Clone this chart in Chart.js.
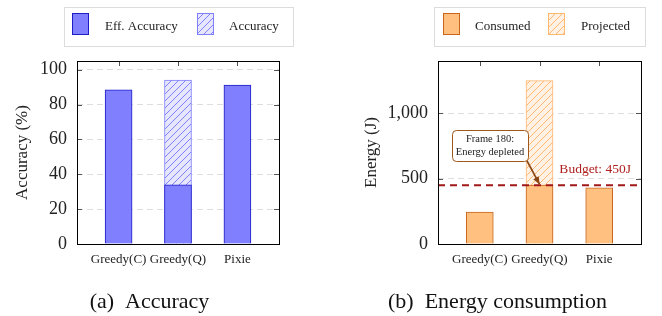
<!DOCTYPE html>
<html>
<head>
<meta charset="utf-8">
<script src="https://cdn.jsdelivr.net/npm/chart.js@4"></script>
<style>
  body { margin: 0; background: #fff; }
  #wrap { position: relative; width: 662px; height: 316px; }
  canvas { position: absolute; top: 0; }
</style>
</head>
<body>
<div id="wrap">
  <canvas id="accChart" width="331" height="316" style="left:0"></canvas>
  <canvas id="energyChart" width="331" height="316" style="left:331px"></canvas>
</div>
<script>
// datos de la figura
const categories = ['Greedy(C)', 'Greedy(Q)', 'Pixie'];
const effAccuracy = [88.5, 34, 91.2];
const accuracy = [null, 94, null];
const accTicks = [0, 20, 40, 60, 80, 100];
const consumed = [245, 450, 430];
const projected = [null, 1250, null];
const energyTicks = [0, 500, 1000];
const budget = 450;
const depletedNote = ['Frame 180:', 'Energy depleted'];

const SERIF = '"Liberation Serif", "Times New Roman", serif';

// relleno rayado tipo pgfplots
function hatch(bg, line) {
    const c = document.createElement('canvas');
    c.width = 7; c.height = 7;
    const g = c.getContext('2d');
    g.fillStyle = bg;
    g.fillRect(0, 0, 7, 7);
    g.strokeStyle = line;
    g.lineWidth = 1;
    g.beginPath();
    g.moveTo(-1, 8); g.lineTo(8, -1);
    g.moveTo(-1, 1); g.lineTo(1, -1);
    g.moveTo(6, 8); g.lineTo(8, 6);
    g.stroke();
    return g.createPattern(c, 'repeat');
}

function points(values) {
    return values.map((v, i) => ({ x: i, y: v }));
}

// marco, marcas interiores, leyenda y pie de figura
const framePlugin = {
    id: 'frame',
    afterDraw(chart, args, opts) {
        const ctx = chart.ctx;
        const a = chart.chartArea;
        const xs = chart.scales.x, ys = chart.scales.y;
        ctx.save();
        // marcas
        ctx.strokeStyle = '#555';
        ctx.lineWidth = 1;
        ctx.beginPath();
        ys.ticks.forEach(t => {
            const y = Math.round(ys.getPixelForValue(t.value)) + 0.5;
            ctx.moveTo(a.left, y); ctx.lineTo(a.left + 5, y);
            ctx.moveTo(a.right, y); ctx.lineTo(a.right - 5, y);
        });
        xs.ticks.forEach(t => {
            const x = Math.round(xs.getPixelForValue(t.value)) + 0.5;
            ctx.moveTo(x, a.top); ctx.lineTo(x, a.top + 5);
        });
        ctx.stroke();
        ctx.strokeStyle = '#000';
        ctx.strokeRect(Math.round(a.left) + 0.5, Math.round(a.top) + 0.5,
            Math.round(a.right - a.left), Math.round(a.bottom - a.top));

        // leyenda
        const lg = opts.legend;
        ctx.strokeStyle = '#dcdcdc';
        ctx.strokeRect(lg.x + 0.5, lg.y + 0.5, lg.w, lg.h);
        ctx.font = '13px ' + SERIF;
        ctx.textBaseline = 'middle';
        ctx.textAlign = 'left';
        chart.data.datasets.forEach((ds, i) => {
            const sx = lg.items[i][0], tx = lg.items[i][1];
            ctx.fillStyle = ds.backgroundColor;
            ctx.fillRect(sx, lg.y + 6, 16, 21);
            ctx.strokeStyle = ds.borderColor;
            ctx.strokeRect(sx + 0.5, lg.y + 6.5, 16, 21);
            ctx.fillStyle = '#222';
            ctx.fillText(ds.label, tx, lg.y + 20);
        });

        // pie
        ctx.font = '22px ' + SERIF;
        ctx.textAlign = 'center';
        ctx.fillStyle = '#111';
        ctx.fillText(opts.caption, opts.captionX, 302);
        ctx.restore();
    }
};

// linea de presupuesto y nota
const budgetPlugin = {
    id: 'budget',
    afterDatasetsDraw(chart, args, opts) {
        if (!opts.show) return;
        const ctx = chart.ctx;
        const a = chart.chartArea;
        const xs = chart.scales.x, ys = chart.scales.y;
        const yb = ys.getPixelForValue(budget);
        ctx.save();
        ctx.strokeStyle = '#a01818';
        ctx.lineWidth = 2;
        ctx.setLineDash([7, 5]);
        ctx.beginPath();
        ctx.moveTo(a.left, yb); ctx.lineTo(a.right, yb);
        ctx.stroke();
        ctx.setLineDash([]);
        ctx.fillStyle = '#b02020';
        ctx.font = '13.5px ' + SERIF;
        ctx.textAlign = 'right';
        ctx.textBaseline = 'middle';
        ctx.fillText('Budget: ' + budget + 'J', a.right - 10, yb - 16);

        // flecha
        const tipX = xs.getPixelForValue(1), tipY = ys.getPixelForValue(consumed[1]) - 1;
        const bx = 121, by = 130, bw = 76, bh = 31;
        const sx = bx + bw - 2, sy = by + bh - 2;
        ctx.strokeStyle = '#8b4513';
        ctx.fillStyle = '#8b4513';
        ctx.lineWidth = 1.6;
        ctx.beginPath();
        ctx.moveTo(sx, sy);
        ctx.lineTo(tipX, tipY);
        ctx.stroke();
        const ang = Math.atan2(tipY - sy, tipX - sx);
        ctx.beginPath();
        ctx.moveTo(tipX, tipY);
        ctx.lineTo(tipX - 8 * Math.cos(ang - 0.4), tipY - 8 * Math.sin(ang - 0.4));
        ctx.lineTo(tipX - 8 * Math.cos(ang + 0.4), tipY - 8 * Math.sin(ang + 0.4));
        ctx.closePath();
        ctx.fill();

        // caja
        ctx.fillStyle = '#fff';
        ctx.strokeStyle = '#a0581a';
        ctx.lineWidth = 1;
        ctx.beginPath();
        ctx.roundRect(bx + 0.5, by + 0.5, bw, bh, 4);
        ctx.fill();
        ctx.stroke();
        ctx.fillStyle = '#222';
        ctx.font = '10.5px ' + SERIF;
        ctx.textAlign = 'center';
        ctx.fillText(depletedNote[0], bx + bw / 2, by + 9);
        ctx.fillText(depletedNote[1], bx + bw / 2, by + 22);
        ctx.restore();
    }
};

function makeChart(id, cfg) {
    return new Chart(document.getElementById(id), {
        type: 'bar',
        data: { datasets: cfg.datasets },
        options: {
            responsive: false,
            animation: false,
            events: [],
            layout: { padding: { left: 0, top: 61, right: cfg.padRight, bottom: 0 } },
            plugins: {
                legend: { display: false },
                tooltip: { enabled: false },
                frame: { legend: cfg.legend, caption: cfg.caption, captionX: cfg.captionX },
                budget: { show: cfg.budget }
            },
            scales: {
                x: {
                    type: 'linear',
                    min: -0.7,
                    max: 2.7,
                    offset: false,
                    bounds: 'ticks',
                    grid: { display: false, offset: false, drawTicks: false },
                    border: { display: false },
                    afterBuildTicks: s => { s.ticks = categories.map((c, i) => ({ value: i })); },
                    afterFit: s => { s.height = 72; },
                    ticks: {
                        padding: 8,
                        color: '#222',
                        font: { family: SERIF, size: 13 },
                        maxRotation: 0,
                        autoSkip: false,
                        callback: v => categories[v]
                    }
                },
                y: {
                    min: 0,
                    max: cfg.yMax,
                    afterBuildTicks: s => { s.ticks = cfg.yTicks.map(v => ({ value: v })); },
                    afterFit: s => { s.width = cfg.axisLeft; },
                    grid: { color: '#dddddd', drawTicks: false, lineWidth: 1 },
                    border: { display: false, dash: [6, 4] },
                    ticks: {
                        padding: 10,
                        color: '#222',
                        font: { family: SERIF, size: 18 },
                        callback: v => v.toLocaleString('en-US')
                    },
                    title: {
                        display: true,
                        text: cfg.yTitle,
                        color: '#222',
                        font: { family: SERIF, size: 17 },
                        padding: { top: cfg.titlePad, bottom: 0 }
                    }
                }
            }
        },
        plugins: [framePlugin, budgetPlugin]
    });
}

makeChart('accChart', {
    datasets: [
        {
            label: 'Eff. Accuracy',
            data: points(effAccuracy),
            backgroundColor: '#8080ff',
            borderColor: '#1c1cc8',
            borderWidth: 1,
            barThickness: 27,
            grouped: false
        },
        {
            label: 'Accuracy',
            data: points(accuracy),
            backgroundColor: hatch('#e6e6ff', '#8080ff'),
            borderColor: '#8080ff',
            borderWidth: 1,
            barThickness: 27,
            grouped: false
        }
    ],
    padRight: 52,
    axisLeft: 77,
    yMax: 105,
    yTicks: accTicks,
    yTitle: 'Accuracy (%)',
    titlePad: 12,
    legend: { x: 64, y: 7, w: 229, h: 39, items: [[72, 105], [197, 229]] },
    caption: '(a)  Accuracy',
    captionX: 149.5,
    budget: false
});

makeChart('energyChart', {
    datasets: [
        {
            label: 'Consumed',
            data: points(consumed),
            backgroundColor: '#ffc080',
            borderColor: '#c8661e',
            borderWidth: 1,
            barThickness: 27,
            grouped: false
        },
        {
            label: 'Projected',
            data: points(projected),
            backgroundColor: hatch('#fff1e3', '#ffb870'),
            borderColor: '#ffb870',
            borderWidth: 1,
            barThickness: 27,
            grouped: false
        }
    ],
    padRight: 21,
    axisLeft: 107,
    yMax: 1400,
    yTicks: energyTicks,
    yTitle: 'Energy (J)',
    titlePad: 30,
    legend: { x: 103, y: 7, w: 211, h: 39, items: [[112, 144], [217, 250]] },
    caption: '(b)  Energy consumption',
    captionX: 166.5,
    budget: true
});
</script>
</body>
</html>
